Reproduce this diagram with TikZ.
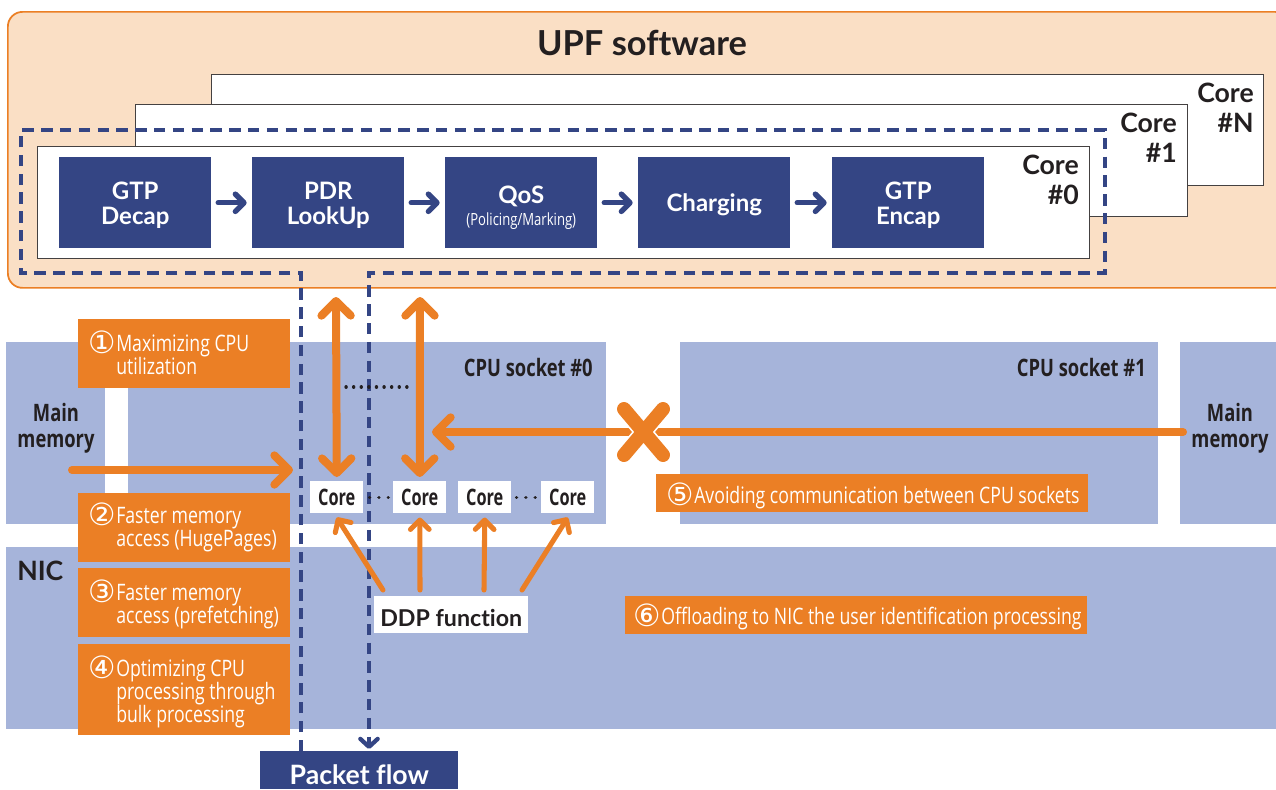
\documentclass[tikz,border=0pt]{standalone}
\usepackage{fontspec}
\usetikzlibrary{arrows.meta}
\setmainfont{Noto Sans}
\newfontfamily\titlefam[Ligatures=NoCommon]{Lato}
\newcommand\titlef{\titlefam\bfseries}
\newfontfamily\condf[FakeStretch=0.78]{Open Sans}
\newfontfamily\condbfam[FakeStretch=0.765]{Open Sans}
\newcommand\condb{\condbfam\bfseries}
\newfontfamily\smallbfam[FakeStretch=0.72]{Open Sans}
\newcommand\smallb{\smallbfam\bfseries}
\newfontfamily\symf{DejaVu Sans}
\definecolor{orangeC}{HTML}{EB7F25}
\definecolor{bandC}{HTML}{A6B4DA}
\definecolor{peachC}{HTML}{FADFC5}
\definecolor{navyC}{HTML}{344584}
\definecolor{inkC}{HTML}{231F20}
\newcommand\circnum[1]{\llap{\smash{\raisebox{-1.5pt}{\symf\fontsize{23}{17}\selectfont #1}}\hspace{0.5pt}}}
\newcommand\toproom[1]{\rule{0pt}{#1}}
\tikzset{
  sz/.style 2 args={minimum width=#1*0.75pt,minimum height=#2*0.75pt,inner sep=0pt,anchor=north west},
  band/.style={fill=bandC,draw=none},
  corebox/.style={fill=white,draw=inkC!85,line width=0.75pt},
  stage/.style={fill=navyC,text=white,align=center,font=\titlef\fontsize{18}{18.75}\selectfont},
  obox/.style={fill=orangeC},
  otext/.style={text=white,align=left,anchor=west,inner sep=0pt,font=\condf\fontsize{17}{17.25}\selectfont},
  dark/.style={text=inkC,inner sep=0pt,font=\condb\fontsize{18}{19.5}\selectfont},
  corelab/.style={text=inkC,inner sep=0pt,align=right,anchor=east,font=\titlef\fontsize{20}{22.5}\selectfont},
  cpucore/.style={fill=white,text=inkC,font=\smallb\fontsize{17}{18}\selectfont},
  flowarrow/.style={navyC,line width=4pt,line cap=round,-{Straight Barb[length=6.5pt,width=13pt,round,line width=4pt]}},
  bigarrow/.style={orangeC,line width=6pt,line cap=round,-{Straight Barb[length=11pt,width=22pt,round,line width=6pt]}},
  bigdouble/.style={orangeC,line width=6pt,line cap=round,{Straight Barb[length=11pt,width=22pt,round,line width=6pt]}-{Straight Barb[length=11pt,width=22pt,round,line width=6pt]}},
  ddparrow/.style={orangeC,line width=3.8pt,line cap=round,-{Straight Barb[length=7pt,width=14pt,round,line width=3.8pt]}},
  dashflow/.style={navyC,line width=2.6pt,dash pattern=on 8.5pt off 5.6pt},
  dotline/.style={inkC,line width=2.5pt,line cap=round,dash pattern=on 0.1pt off 5.6pt},
  dotgap/.style={inkC,line width=2.5pt,line cap=round,dash pattern=on 0.1pt off 6.9pt},
}
\begin{document}
\begin{tikzpicture}[x=0.75pt,y=-0.75pt]
\useasboundingbox (0,0) rectangle (1276,789);
% UPF panel
\node[sz={1282}{276},fill=peachC,draw=orangeC,line width=1.3pt,rounded corners=11pt] (upf) at (7,11) {};
\node[text=inkC,inner sep=0pt,font=\titlef\fontsize{25.8}{28}\selectfont] (upft) at (642,43) {UPF software};
% Core panels
\node[sz={1052}{111},corebox] (coreN) at (211,74) {};
\node[corelab] (coreNt) at (1254,108) {Core\\\#N};
\node[sz={1052}{112},corebox] (core1) at (135,104) {};
\node[corelab] (core1t) at (1177,138) {Core\\\#1};
\node[sz={1052}{112},corebox] (core0) at (37,146) {};
\node[corelab] (core0t) at (1079,180) {Core\\\#0};
% Stages
\node[sz={152}{91},stage] (s1) at (59,157) {\toproom{17.5pt}GTP\\Decap};
\node[sz={152}{91},stage] (s2) at (252,157) {\toproom{17.5pt}PDR\\LookUp};
\node[sz={152}{91},stage] (s3) at (445,157) {\toproom{21pt}QoS\\[-2pt]{\condf\mdseries\fontsize{12.6}{14}\selectfont(Policing/Marking)}};
\node[sz={152}{91},stage] (s4) at (638,157) {\toproom{16.5pt}Charging};
\node[sz={152}{91},stage] (s5) at (832,157) {\toproom{17.5pt}GTP\\Encap};
\foreach \a/\b in {s1/s2,s2/s3,s3/s4,s4/s5}
  \draw[flowarrow] ([xshift=5pt]\a.east) -- ([xshift=-4pt]\b.west);
% Bands
\node[sz={99}{182},band] (memL) at (6,342) {};
\node[sz={478}{182},band] (sock0) at (128,342) {};
\node[sz={478}{182},band] (sock1) at (680,342) {};
\node[sz={97}{182},band] (memR) at (1180,342) {};
\node[sz={1271}{182},band] (nic) at (6,547) {};
\node[dark,align=center] (memLt) at (56,428.5) {Main\\memory};
\node[dark,align=center] (memRt) at (1230,428.5) {Main\\memory};
\node[dark,anchor=west,font=\titlef\fontsize{20}{22}\selectfont] (nict) at (17,571) {NIC};
\node[dark,anchor=east] (sock0t) at (593,367) {CPU socket \#0};
\node[dark,anchor=east] (sock1t) at (1146,367) {CPU socket \#1};
% Cores
\node[sz={53}{32},cpucore] (c1) at (310,481) {Core};
\node[sz={53}{32},cpucore] (c2) at (393,481) {Core};
\node[sz={53}{32},cpucore] (c3) at (458,481) {Core};
\node[sz={53}{32},cpucore] (c4) at (541,481) {Core};
\coordinate (u1) at (336,297);
\coordinate (u2) at (420,297);
\draw[bigdouble] (u1) -- ([yshift=3pt]c1.north);
\draw[bigdouble] (u2) -- ([yshift=3pt]c2.north);
\coordinate (dot1) at (346,387);
\coordinate (dot2) at (411,387);
% Packet flow
\node[sz={198}{38},fill=navyC,text=white,font=\titlef\fontsize{20}{20}\selectfont] (pf) at (260,751) {\toproom{22pt}Packet flow};
\coordinate (d1) at (301,273);
\coordinate (d2) at (21,273);
\coordinate (d3) at (21,130);
\coordinate (d4) at (1105,130);
\coordinate (d5) at (1105,273);
\coordinate (d6) at (369,273);
\draw[dashflow] (pf.north -| d1) -- (d1) -- (d2) -- (d3) -- (d4) -- (d5) -- (d6) -- ([yshift=5pt]pf.north -| d6);
\draw[navyC,line width=3.2pt,line cap=round,-{Straight Barb[length=6pt,width=13pt,round,line width=3.2pt]}] ([yshift=7pt]pf.north -| d6) -- ([yshift=1.5pt]pf.north -| d6);
\draw[dotline] (dot1) -- (dot2);
% Ellipses between cores
\draw[dotgap] ([xshift=4.5pt]c1.east) -- ([xshift=-3.4pt]c2.west);
\draw[dotgap] ([xshift=3.7pt]c3.east) -- ([xshift=-4.2pt]c4.west);
% Memory arrows
\coordinate (mL) at (72,470);
\coordinate (mLe) at (293,470);
\draw[bigarrow] (mL) -- (mLe);
\coordinate (mR) at (1183,432);
\coordinate (mRe) at (432,432);
\draw[bigarrow] (mR) -- (mRe);
\coordinate (xa) at (624,409);
\coordinate (xb) at (663,455);
\coordinate (xc) at (624,455);
\coordinate (xd) at (663,409);
\draw[white,line width=13pt] (xa) -- (xb) (xc) -- (xd);
\draw[orangeC,line width=10.5pt,line cap=round] (xa) -- (xb) (xc) -- (xd);
% Orange labels
\node[sz={212}{69},obox] (o1) at (78,319) {};
\node[otext] (o1t) at (116,355) {\circnum{①}Maximizing CPU\\utilization};
\node[sz={212}{69},obox] (o2) at (78,493) {};
\node[otext] (o2t) at (116,529.5) {\circnum{②}Faster memory\\access (HugePages)};
\node[sz={212}{69},obox] (o3) at (78,568) {};
\node[otext] (o3t) at (116,607) {\circnum{③}Faster memory\\access (prefetching)};
\node[sz={212}{91},obox] (o4) at (78,644) {};
\node[otext] (o4t) at (116,694) {\circnum{④}Optimizing CPU\\processing through\\bulk processing};
\node[sz={432}{38},obox] (o5) at (656,474) {};
\node[otext] (o5t) at (694,498) {\circnum{⑤}Avoiding communication between CPU sockets};
\node[sz={462}{38},obox] (o6) at (625,596) {};
\node[otext] (o6t) at (661,619) {\circnum{⑥}Offloading to NIC the user identification processing};
% DDP
\node[sz={154}{37},fill=white,text=inkC,font=\titlef\fontsize{17.4}{18}\selectfont] (ddp) at (374,596) {\toproom{17.5pt}DDP function};
\coordinate (p1) at (383,590);
\coordinate (p2) at (420,590);
\coordinate (p3) at (484,590);
\coordinate (p4) at (522,590);
\draw[ddparrow] (p1) -- ([yshift=-3pt]c1.south);
\draw[ddparrow] (p2) -- ([yshift=-3pt]c2.south);
\draw[ddparrow] (p3) -- ([yshift=-3pt]c3.south);
\draw[ddparrow] (p4) -- ([yshift=-3pt]c4.south);
\end{tikzpicture}
\end{document}
